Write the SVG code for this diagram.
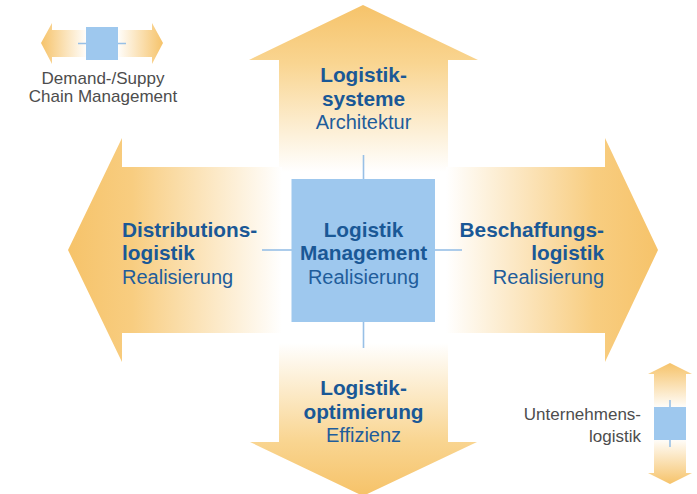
<svg xmlns="http://www.w3.org/2000/svg" width="697" height="494" viewBox="0 0 697 494">
<defs>
<linearGradient id="gTop" x1="0" y1="5" x2="0" y2="172" gradientUnits="userSpaceOnUse">
<stop offset="0" stop-color="#f6c36a"/><stop offset="0.35" stop-color="#f9d591"/><stop offset="1" stop-color="#ffffff"/>
</linearGradient>
<linearGradient id="gBot" x1="0" y1="494" x2="0" y2="343" gradientUnits="userSpaceOnUse">
<stop offset="0" stop-color="#f6c36a"/><stop offset="0.35" stop-color="#f9d591"/><stop offset="1" stop-color="#ffffff"/>
</linearGradient>
<linearGradient id="gLeft" x1="68" y1="0" x2="282" y2="0" gradientUnits="userSpaceOnUse">
<stop offset="0" stop-color="#f6c36a"/><stop offset="0.3" stop-color="#f8cd80"/><stop offset="1" stop-color="#ffffff"/>
</linearGradient>
<linearGradient id="gRight" x1="658" y1="0" x2="446" y2="0" gradientUnits="userSpaceOnUse">
<stop offset="0" stop-color="#f6c36a"/><stop offset="0.3" stop-color="#f8cd80"/><stop offset="1" stop-color="#ffffff"/>
</linearGradient>
<linearGradient id="gSmallH" x1="41" y1="0" x2="163" y2="0" gradientUnits="userSpaceOnUse">
<stop offset="0" stop-color="#f6c36a"/><stop offset="0.38" stop-color="#ffffff"/><stop offset="0.62" stop-color="#ffffff"/><stop offset="1" stop-color="#f6c36a"/>
</linearGradient>
<linearGradient id="gSmallV" x1="0" y1="363" x2="0" y2="484" gradientUnits="userSpaceOnUse">
<stop offset="0" stop-color="#f6c36a"/><stop offset="0.38" stop-color="#ffffff"/><stop offset="0.62" stop-color="#ffffff"/><stop offset="1" stop-color="#f6c36a"/>
</linearGradient>
</defs>
<style>
.t{font-family:"Liberation Sans",Arial,sans-serif;font-size:20px;fill:#1f5d9b}
.b{font-weight:bold;font-size:20.8px;fill:#1a5896}
.l{font-family:"Liberation Sans",Arial,sans-serif;font-size:17px;fill:#4d4d4d}
.box{fill:#9ec8ee}
.c{stroke:#98c0e6;stroke-width:1.6;fill:none}
</style>
<rect width="697" height="494" fill="#ffffff"/>
<g id="arrow-top">
<polygon points="363,5 478,60 448,60 448,172 279,172 279,60 249,60" fill="url(#gTop)"/>
<text class="t b" x="363.5" y="82" text-anchor="middle">Logistik-</text>
<text class="t b" x="363.5" y="106" text-anchor="middle">systeme</text>
<text class="t" x="363.5" y="129" text-anchor="middle">Architektur</text>
</g>
<g id="arrow-left">
<polygon points="68,250 122,138 122,167 282,167 282,333 122,333 122,362" fill="url(#gLeft)"/>
<text class="t b" x="122" y="237">Distributions-</text>
<text class="t b" x="122" y="260">logistik</text>
<text class="t" x="122" y="284">Realisierung</text>
</g>
<g id="arrow-right">
<polygon points="658,250 605,138 605,167 446,167 446,333 605,333 605,362" fill="url(#gRight)"/>
<text class="t b" x="604" y="237" text-anchor="end">Beschaffungs-</text>
<text class="t b" x="604" y="260" text-anchor="end">logistik</text>
<text class="t" x="604" y="284" text-anchor="end">Realisierung</text>
</g>
<g id="arrow-bottom">
<polygon points="279,343 448,343 448,442 477,442 363,496 250,442 279,442" fill="url(#gBot)"/>
<text class="t b" x="363.5" y="395" text-anchor="middle">Logistik-</text>
<text class="t b" x="363.5" y="419" text-anchor="middle">optimierung</text>
<text class="t" x="363.5" y="442" text-anchor="middle">Effizienz</text>
</g>
<g id="connectors">
<line class="c" x1="363.5" y1="155" x2="363.5" y2="179"/>
<line class="c" x1="363.5" y1="322" x2="363.5" y2="348"/>
<line class="c" x1="262" y1="250" x2="292" y2="250"/>
<line class="c" x1="435" y1="250" x2="462" y2="250"/>
</g>
<g id="center">
<rect class="box" x="291.5" y="179" width="143.5" height="143"/>
<text class="t b" x="363.5" y="237" text-anchor="middle">Logistik</text>
<text class="t b" x="363.5" y="260" text-anchor="middle">Management</text>
<text class="t" x="363.5" y="284" text-anchor="middle">Realisierung</text>
</g>
<g id="legend-scm">
<polygon points="41,43 52,23 52,30 152,30 152,23 163,43 152,64 152,57 52,57 52,64" fill="url(#gSmallH)"/>
<line class="c" x1="78" y1="43.5" x2="126" y2="43.5"/>
<rect class="box" x="86" y="27" width="32" height="33"/>
<text class="l" x="103" y="84" text-anchor="middle">Demand-/Suppy</text>
<text class="l" x="103" y="102" text-anchor="middle">Chain Management</text>
</g>
<g id="legend-ul">
<polygon points="670,363 692,374 686,374 686,473 692,473 670,484 648,473 654,473 654,374 648,374" fill="url(#gSmallV)"/>
<line class="c" x1="670" y1="400" x2="670" y2="447"/>
<rect class="box" x="654" y="407" width="32" height="33"/>
<text class="l" x="641" y="420" text-anchor="end">Unternehmens-</text>
<text class="l" x="641" y="442" text-anchor="end">logistik</text>
</g>
</svg>
